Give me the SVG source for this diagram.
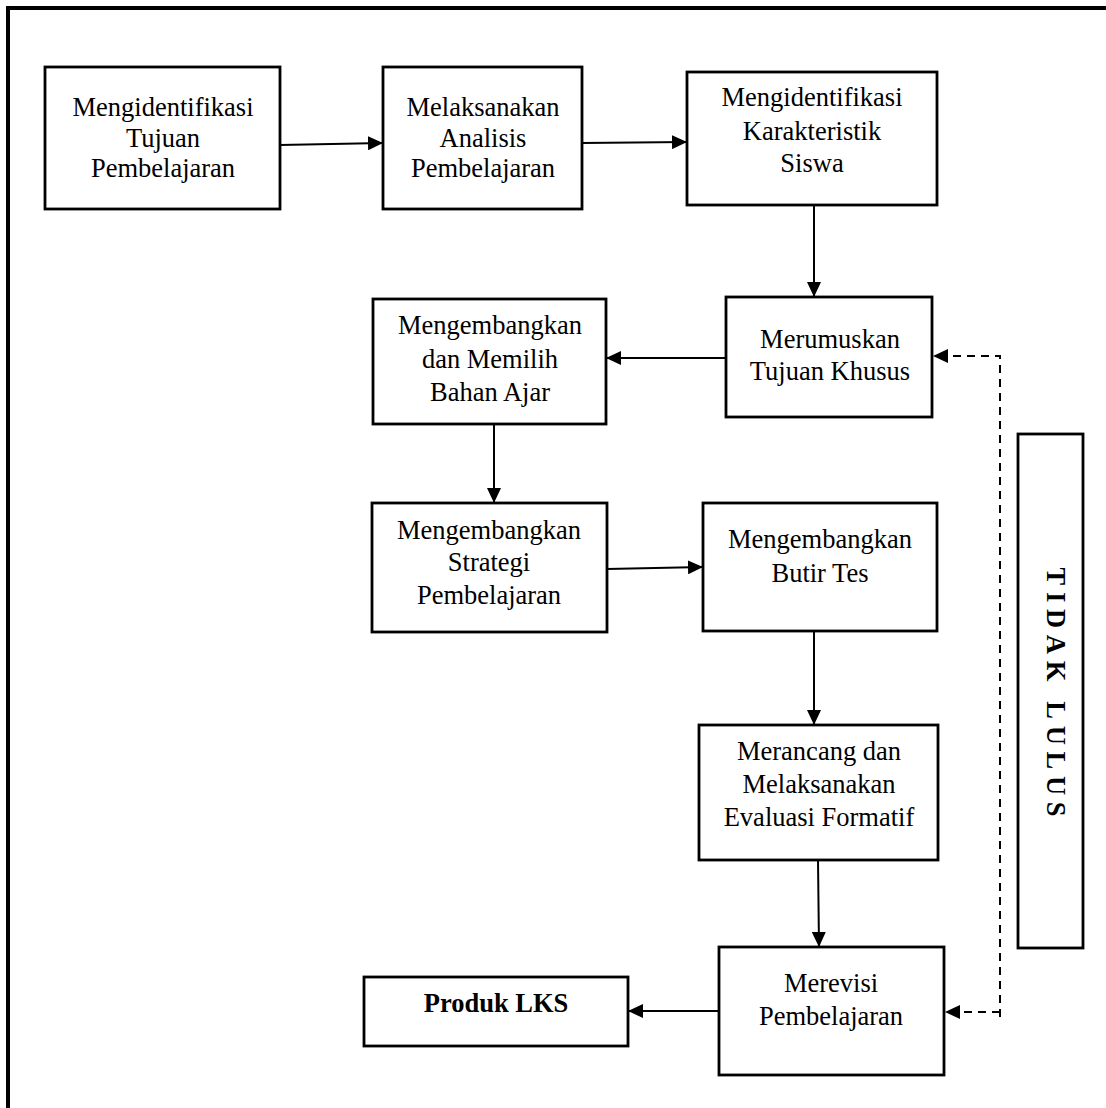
<svg xmlns="http://www.w3.org/2000/svg" width="1106" height="1108" viewBox="0 0 1106 1108">
<style>
.box{fill:#fff;stroke:#000;stroke-width:2.8}
.t{font-family:"Liberation Serif","Times New Roman",serif;font-size:26.5px;fill:#000;text-anchor:middle}
.b{font-weight:bold}
.c{fill:none;stroke:#000;stroke-width:2}
.d{fill:none;stroke:#000;stroke-width:2;stroke-dasharray:8,6}
</style>
<defs>
<marker id="ah" markerUnits="userSpaceOnUse" markerWidth="16" markerHeight="14" refX="15" refY="7" orient="auto">
<path d="M0,0 L15,7 L0,14 z" fill="#000"/>
</marker>
</defs>
<rect x="0" y="0" width="1106" height="1108" fill="#fff"/>
<path d="M8,1110 V8 H1110" fill="none" stroke="#000" stroke-width="4"/>

<g id="n1"><rect class="box" x="45" y="67" width="235" height="142"/>
<text class="t" x="163" y="116">Mengidentifikasi</text><text class="t" x="163" y="146.7">Tujuan</text><text class="t" x="163" y="177">Pembelajaran</text></g>

<g id="n2"><rect class="box" x="383" y="67" width="199" height="142"/>
<text class="t" x="483" y="116">Melaksanakan</text><text class="t" x="483" y="146.7">Analisis</text><text class="t" x="483" y="177.3">Pembelajaran</text></g>

<g id="n3"><rect class="box" x="687" y="72" width="250" height="133"/>
<text class="t" x="812" y="106">Mengidentifikasi</text><text class="t" x="812" y="140">Karakteristik</text><text class="t" x="812" y="171.7">Siswa</text></g>

<g id="n4"><rect class="box" x="726" y="297" width="206" height="120"/>
<text class="t" x="830" y="348">Merumuskan</text><text class="t" x="830" y="380">Tujuan Khusus</text></g>

<g id="n5"><rect class="box" x="373" y="299" width="233" height="125"/>
<text class="t" x="490" y="334">Mengembangkan</text><text class="t" x="490" y="368">dan Memilih</text><text class="t" x="490" y="401">Bahan Ajar</text></g>

<g id="n6"><rect class="box" x="372" y="503" width="235" height="129"/>
<text class="t" x="489" y="539">Mengembangkan</text><text class="t" x="489" y="571">Strategi</text><text class="t" x="489" y="604">Pembelajaran</text></g>

<g id="n7"><rect class="box" x="703" y="503" width="234" height="128"/>
<text class="t" x="820" y="548">Mengembangkan</text><text class="t" x="820" y="582">Butir Tes</text></g>

<g id="n8"><rect class="box" x="699" y="725" width="239" height="135"/>
<text class="t" x="819" y="760">Merancang dan</text><text class="t" x="819" y="793">Melaksanakan</text><text class="t" x="819" y="826">Evaluasi Formatif</text></g>

<g id="n9"><rect class="box" x="719" y="947" width="225" height="128"/>
<text class="t" x="831" y="992">Merevisi</text><text class="t" x="831" y="1025">Pembelajaran</text></g>

<g id="n10"><rect class="box" x="364" y="977" width="264" height="69"/>
<text class="t b" x="496" y="1012">Produk LKS</text></g>

<g id="n11"><rect class="box" x="1018" y="434" width="65" height="514"/>
<text class="t b" font-size="22" transform="translate(1055,692) rotate(90)" x="0" y="8" textLength="249" lengthAdjust="spacing">TIDAK LULUS</text></g>

<g id="connectors">
<path class="c" d="M280,145 L383,143" marker-end="url(#ah)"/>
<path class="c" d="M582,143 L687,142" marker-end="url(#ah)"/>
<path class="c" d="M814,206 L814,297" marker-end="url(#ah)"/>
<path class="c" d="M726,358 L606,358" marker-end="url(#ah)"/>
<path class="c" d="M494,424 L494,503" marker-end="url(#ah)"/>
<path class="c" d="M607,569 L703,567" marker-end="url(#ah)"/>
<path class="c" d="M814,631 L814,725" marker-end="url(#ah)"/>
<path class="c" d="M818,860 L819,947" marker-end="url(#ah)"/>
<path class="c" d="M719,1011 L628,1011" marker-end="url(#ah)"/>
<path class="d" d="M1000,1017 V356 H933" marker-end="url(#ah)"/>
<path class="d" d="M1000,1012 H945" marker-end="url(#ah)"/>
</g>
</svg>
